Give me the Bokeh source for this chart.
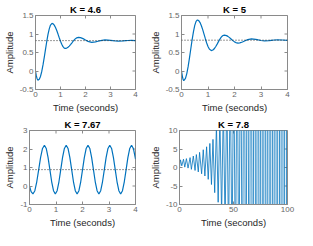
from math import pi
from bokeh.plotting import figure
from bokeh.layouts import column, row
from bokeh.models import FixedTicker, Range1d, Span
from bokeh.embed import file_html
from bokeh.resources import INLINE

FONT = "Liberation Sans"
BLUE = "#0072BD"
BOX = "#8a8a8a"

titles = ["K = 4.6", "K = 5", "K = 7.67", "K = 7.8"]
steady = [0.821, 0.833, 0.885]
x_label = "Time (seconds)"
y_label = "Amplitude"

# tick values / labels
xt_short = [0, 1, 2, 3, 4]
xl_short = ["0", "1", "2", "3", "4"]
yt_a = [-0.5, 0, 0.5, 1, 1.5]
yl_a = ["-0.5", "0", "0.5", "1", "1.5"]
yt_c = [-1, 0, 1, 2, 3]
yl_c = ["-1", "0", "1", "2", "3"]
xt_long = [0, 50, 100]
xl_long = ["0", "50", "100"]
yt_d = [-10, -5, 0, 5, 10]
yl_d = ["-10", "-5", "0", "5", "10"]

# K = 4.6
t1 = [0, 0.03, 0.06, 0.09, 0.11, 0.15, 0.2, 0.25, 0.3, 0.35, 0.4, 0.45, 0.5, 0.55, 0.6, 0.66,
      0.7, 0.75, 0.8, 0.85, 0.9, 0.95, 1.0, 1.05, 1.1, 1.15, 1.19, 1.25, 1.3, 1.35, 1.4, 1.45,
      1.5, 1.55, 1.6, 1.65, 1.72, 1.8, 1.9, 2.0, 2.1, 2.25, 2.4, 2.5, 2.6, 2.78, 2.9, 3.0, 3.1,
      3.2, 3.31, 3.5, 3.6, 3.7, 3.84, 4.0]
y1 = [0, -0.12, -0.2, -0.24, -0.245, -0.225, -0.146, -0.013, 0.163, 0.368, 0.586, 0.798, 0.988,
      1.14, 1.242, 1.286, 1.277, 1.239, 1.176, 1.093, 0.998, 0.899, 0.803, 0.721, 0.658, 0.62,
      0.611, 0.62, 0.642, 0.673, 0.713, 0.756, 0.8, 0.84, 0.874, 0.897, 0.91, 0.903, 0.875,
      0.836, 0.8, 0.775, 0.787, 0.805, 0.823, 0.84, 0.836, 0.829, 0.82, 0.813, 0.81, 0.815,
      0.82, 0.824, 0.826, 0.822]

# K = 5
t2 = [0, 0.03, 0.06, 0.086, 0.15, 0.2, 0.25, 0.3, 0.35, 0.4, 0.45, 0.5, 0.55, 0.6, 0.65, 0.7,
      0.75, 0.8, 0.85, 0.9, 0.95, 1.0, 1.05, 1.125, 1.2, 1.25, 1.3, 1.35, 1.4, 1.45, 1.5, 1.55,
      1.615, 1.7, 1.75, 1.8, 1.85, 1.9, 1.95, 2.0, 2.05, 2.13, 2.2, 2.3, 2.4, 2.5, 2.64, 2.8,
      2.9, 3.0, 3.13, 3.3, 3.4, 3.5, 3.62, 3.8, 4.0]
y2 = [0, -0.13, -0.23, -0.26, -0.198, -0.069, 0.118, 0.347, 0.595, 0.84, 1.059, 1.232, 1.341,
      1.38, 1.362, 1.308, 1.224, 1.117, 0.997, 0.873, 0.758, 0.662, 0.592, 0.551, 0.575, 0.615,
      0.67, 0.734, 0.8, 0.863, 0.915, 0.952, 0.97, 0.956, 0.936, 0.909, 0.877, 0.845, 0.814,
      0.787, 0.768, 0.755, 0.76, 0.783, 0.817, 0.848, 0.868, 0.855, 0.839, 0.824, 0.815, 0.822,
      0.83, 0.838, 0.842, 0.838, 0.829]

# K = 7.67
t3 = [0, 0.06, 0.13, 0.202, 0.274, 0.347, 0.419, 0.491,
      0.563, 0.632, 0.700, 0.769, 0.837, 0.906, 0.974, 1.043, 1.111, 1.180, 1.248, 1.317,
      1.385, 1.454, 1.522, 1.591, 1.659, 1.728, 1.796, 1.865, 1.933, 2.002, 2.070, 2.139,
      2.207, 2.276, 2.344, 2.413, 2.481, 2.550, 2.618, 2.687, 2.755, 2.824, 2.892, 2.961,
      3.029, 3.098, 3.166, 3.235, 3.303, 3.372, 3.440, 3.509, 3.577, 3.646, 3.714, 3.783,
      3.851, 3.920, 3.988, 4.0]
y3 = [0, -0.3, -0.43, -0.253, 0.229, 0.888, 1.547, 2.029,
      2.206, 2.029, 1.547, 0.888, 0.229, -0.253, -0.43, -0.253, 0.229, 0.888, 1.547, 2.029,
      2.206, 2.029, 1.547, 0.888, 0.229, -0.253, -0.43, -0.253, 0.229, 0.888, 1.547, 2.029,
      2.206, 2.029, 1.547, 0.888, 0.229, -0.253, -0.43, -0.253, 0.229, 0.888, 1.547, 2.029,
      2.206, 2.029, 1.547, 0.888, 0.229, -0.253, -0.43, -0.253, 0.229, 0.888, 1.547, 2.029,
      2.206, 2.029, 1.547, 1.45]

# K = 7.8 (unstable, coarse samples)
t4 = [0, 0.9, 2.1, 3.7, 4.9, 6.4, 7.9, 9.8, 11.0, 12.8, 14.4, 15.6, 17.4, 18.6, 20.5, 22.0,
      23.5, 25.1, 26.6, 28.1, 29.6, 31.0, 32.6,
      34.2, 35.8, 37.4, 39.0, 40.6, 42.2, 43.8, 45.4, 47.0, 48.6, 50.2, 51.8, 53.4, 55.0, 56.6,
      58.2, 59.8, 61.4, 63.0, 64.6, 66.2, 67.8, 69.4, 71.0, 72.6, 74.2, 75.8, 77.4, 79.0, 80.6,
      82.2, 83.8, 85.4, 87.0, 88.6, 90.2, 91.8, 93.4, 95.0, 96.6, 98.2, 99.8]
y4 = [0, 2.07, 0.45, 2.25, 0.1, 2.4, -0.16, 2.67, -0.5, 3.1, -0.8, 3.5, -1.2, 4.1, -1.7, 4.8,
      -2.3, 5.6, -3.2, 6.5, -4.6, 7.6, -6.8,
      11.5, -9.4, 14, -13, 17, -16, 21, -20, 26, -25, 32, -31, 40, -39, 50, -48, 62, -60, 77,
      -75, 95, -93, 118, -115, 146, -142, 181, -176, 224, -218, 278, -270, 345, -335, 428, -415,
      530, -515, 657, -638, 815, -790]


def style_axis(ax, ticks, labels):
    ax.ticker = FixedTicker(ticks=ticks)
    ax.major_tick_in = 3
    ax.major_tick_out = 0
    ax.minor_tick_line_color = None
    ax.axis_line_color = BOX
    ax.major_tick_line_color = BOX
    ax.major_label_overrides = {k: v for k, v in zip(ticks, labels)}
    ax.major_label_text_font = FONT
    ax.major_label_text_font_size = "8px"
    ax.major_label_text_color = "#666666"
    ax.major_label_standoff = 2
    ax.axis_label_text_font = FONT
    ax.axis_label_text_font_size = "9.5px"
    ax.axis_label_text_font_style = "normal"
    ax.axis_label_text_color = "#262626"
    ax.axis_label_standoff = 2


def make(title, t, y, xr, yr, xt, xl, yt, yl, ss, width, left, right, top, bottom, lw):
    p = figure(width=width, height=115, x_range=Range1d(*xr), y_range=Range1d(*yr),
               output_backend="svg", toolbar_location=None, title=title,
               x_axis_label=x_label, y_axis_label=y_label,
               min_border_left=left, min_border_right=right,
               min_border_top=top, min_border_bottom=bottom)
    p.title.text_font = FONT
    p.title.text_font_size = "9.5px"
    p.title.text_font_style = "bold"
    p.title.text_color = "#000000"
    p.title.align = "center"
    p.title.standoff = 2
    p.grid.visible = False
    p.outline_line_color = BOX
    p.background_fill_color = "white"
    p.border_fill_color = "white"
    style_axis(p.xaxis[0], xt, xl)
    style_axis(p.yaxis[0], yt, yl)
    # mirrored tick marks on the top and right edges of the box
    p.scatter(x=xt, y=[yr[1]] * len(xt), marker="dash", angle=pi / 2, size=6,
              line_color=BOX, line_width=1)
    p.scatter(x=[xr[1]] * len(yt), y=yt, marker="dash", size=6,
              line_color=BOX, line_width=1)
    if ss is not None:
        p.add_layout(Span(location=ss, dimension="width", line_color="#333333",
                          line_width=1, line_dash="1 2"))
    p.line(t, y, line_color=BLUE, line_width=lw)
    return p


p1 = make(titles[0], t1, y1, (0, 4), (-0.5, 1.5), xt_short, xl_short, yt_a, yl_a, steady[0],
          146, 29, 11, 13, 26, 1.2)
p2 = make(titles[1], t2, y2, (0, 4), (-0.5, 1.5), xt_short, xl_short, yt_a, yl_a, steady[1],
          151, 33, 10, 13, 26, 1.2)
p3 = make(titles[2], t3, y3, (0, 4), (-1, 3), xt_short, xl_short, yt_c, yl_c, steady[2],
          146, 29, 11, 15, 24, 1.2)
p4 = make(titles[3], t4, y4, (0, 100), (-10, 10), xt_long, xl_long, yt_d, yl_d, None,
          151, 33, 10, 15, 24, 0.8)

layout = column(row(p1, p2), row(p3, p4))
open("out.html", "w").write(file_html(layout, INLINE))
